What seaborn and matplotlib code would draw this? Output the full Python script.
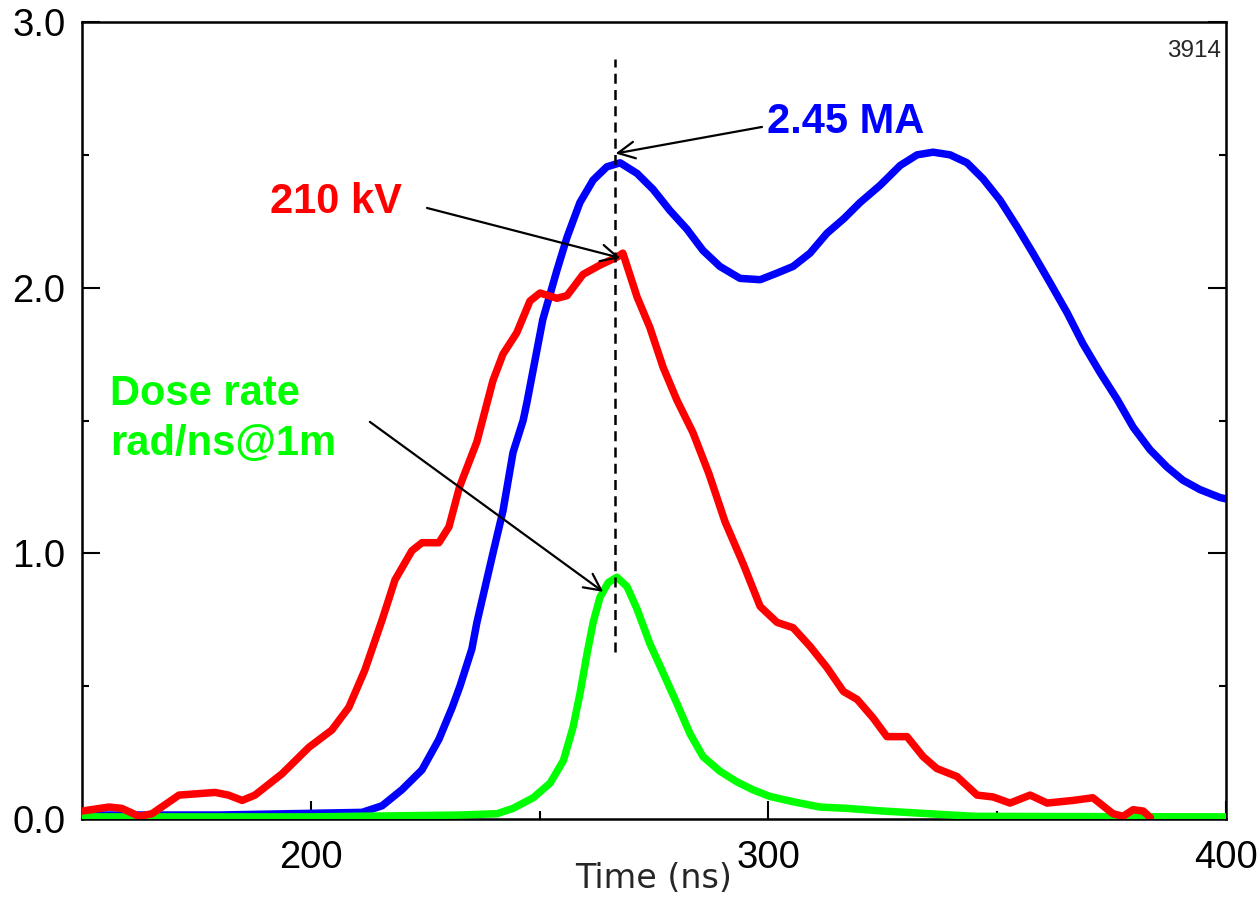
import numpy as np
import pandas as pd
import matplotlib
matplotlib.use("Agg")
import matplotlib.pyplot as plt
import seaborn as sns

# ---------------- data ----------------
t_current = [150, 180, 211.2, 215.6, 219.9, 224.3, 228, 230.9, 232.6, 235.2, 236.3,
             239.8, 242, 244.2, 246.4, 247.2, 250.7, 253.8, 256, 258.8, 261.7,
             264.7, 267.6, 271.3, 274.8, 278.5, 282.2, 285.7, 289.4, 293.8, 298.2,
             301.9, 305.4, 309.1, 312.8, 316.5, 320, 324.4, 328.8, 332.5, 336,
             339.7, 343.4, 346.9, 350.6, 354.3, 357.8, 361.5, 365.3, 368.7, 372.5,
             376.2, 379.7, 383.4, 387.1, 390.6, 394.3, 398.7, 400]
current_MA = [0.015, 0.015, 0.025, 0.05, 0.11, 0.185, 0.30, 0.42, 0.50, 0.64, 0.74,
              1.00, 1.16, 1.38, 1.50, 1.565, 1.88, 2.066, 2.19, 2.32, 2.405,
              2.455, 2.47, 2.43, 2.37, 2.29, 2.22, 2.14, 2.08, 2.035, 2.03,
              2.055, 2.08, 2.13, 2.205, 2.26, 2.32, 2.385, 2.46, 2.50, 2.51,
              2.50, 2.47, 2.41, 2.33, 2.23, 2.13, 2.02, 1.905, 1.79, 1.68,
              1.58, 1.475, 1.39, 1.325, 1.275, 1.24, 1.21, 1.205]

t_voltage = [150, 155.9, 158.7, 162.5, 165.3, 171.2, 179.1, 182, 185, 187.8, 193.7,
             199.6, 204.6, 208.3, 211.8, 215.6, 218.4, 222.1, 224.3, 228, 230.2,
             232.5, 236.3, 239.8, 242, 245, 247.9, 250.1, 253.8, 256, 259.5,
             263.2, 266.9, 268.2, 271.3, 274.1, 277, 280, 283.5, 287, 290.5,
             294.5, 298.2, 301.9, 305.4, 309.1, 312.8, 316.4, 319.4, 322.9, 325.9,
             330.3, 333.8, 336.8, 341.2, 345.6, 349.1, 352.8, 357.2, 360.9, 366.6,
             370.9, 375.3, 377.5, 379.7, 381.9, 383.5]
voltage_100kV = [0.03, 0.045, 0.04, 0.01, 0.02, 0.09, 0.10, 0.09, 0.07, 0.09, 0.17,
                 0.27, 0.335, 0.42, 0.56, 0.75, 0.90, 1.01, 1.04, 1.04, 1.10,
                 1.25, 1.42, 1.65, 1.75, 1.83, 1.95, 1.98, 1.96, 1.97, 2.05,
                 2.085, 2.115, 2.13, 1.965, 1.85, 1.70, 1.577, 1.455, 1.30, 1.12,
                 0.96, 0.80, 0.74, 0.72, 0.65, 0.57, 0.48, 0.45, 0.38, 0.31,
                 0.31, 0.235, 0.19, 0.16, 0.09, 0.083, 0.06, 0.09, 0.06, 0.07,
                 0.08, 0.02, 0.01, 0.035, 0.03, 0.005]

t_dose = [150, 200, 232.6, 240.7, 244.2, 248.6, 252.3, 255.2, 257.3, 258.8, 260.4,
          261.7, 263.2, 265, 266.9, 269.1, 271.3, 274.1, 277, 280, 282.9,
          285.7, 289.4, 293.1, 296.6, 300.3, 305.4, 311.3, 317.2, 325, 335,
          345, 400]
dose_rate = [0.008, 0.008, 0.015, 0.02, 0.04, 0.08, 0.135, 0.22, 0.345, 0.47, 0.625,
             0.74, 0.835, 0.89, 0.91, 0.875, 0.79, 0.66, 0.55, 0.435, 0.32,
             0.235, 0.18, 0.14, 0.11, 0.085, 0.065, 0.045, 0.04, 0.03, 0.02,
             0.01, 0.008]

peak_time = 266.5
x_ticks = [200, 300, 400]
x_tick_labels = ["200", "300", "400"]
y_ticks = [0.0, 1.0, 2.0, 3.0]
y_tick_labels = ["0.0", "1.0", "2.0", "3.0"]

# ---------------- styling ----------------
sns.set_style("white")
plt.rcParams["font.family"] = ["Liberation Sans", "DejaVu Sans"]

fig = plt.figure(figsize=(12.58, 8.98), dpi=100)
ax = fig.add_axes([0.06518, 0.08797, 0.90938, 0.88753])

BLUE, RED, GREEN = "#0000ff", "#ff0000", "#00ff00"
LW = 5.4

sns.lineplot(x=t_current, y=current_MA, color=BLUE, lw=LW, ax=ax,
             estimator=None, sort=False, zorder=2)
sns.lineplot(x=t_dose, y=dose_rate, color=GREEN, lw=LW, ax=ax,
             estimator=None, sort=False, zorder=3)
sns.lineplot(x=t_voltage, y=voltage_100kV, color=RED, lw=LW, ax=ax,
             estimator=None, sort=False, zorder=4)

ax.vlines(peak_time, 0.63, 2.86, colors="black", lw=1.8,
          linestyles=(0, (4, 2.5)), zorder=5)

ax.set_xlim(150, 400)
ax.set_ylim(0, 3)
ax.set_xticks(x_ticks)
ax.set_xticklabels(x_tick_labels)
ax.set_xticks([250, 350], minor=True)
ax.set_yticks(y_ticks)
ax.set_yticklabels(y_tick_labels)
ax.set_yticks([0.5, 1.5, 2.5], minor=True)

ax.tick_params(axis="both", which="both", direction="in", color="black",
               width=1.5, labelsize=27.5, labelcolor="black",
               bottom=True, left=True, right=True, top=False)
ax.tick_params(axis="x", which="major", length=13, pad=15)
ax.tick_params(axis="x", which="minor", length=6)
ax.tick_params(axis="y", which="major", length=13, pad=12)
ax.tick_params(axis="y", which="minor", length=5)

for sp in ax.spines.values():
    sp.set_color("black")
    sp.set_linewidth(1.8)

ax.set_xlabel("Time (ns)", fontsize=24, family="DejaVu Sans", labelpad=-10)
ax.set_ylabel("")

# annotations
ax.text(0.9956, 0.956, "3914", transform=ax.transAxes, ha="right",
        va="baseline", fontsize=17.5)
ax.text(299.7, 2.582, "2.45 MA", color=BLUE, fontsize=30, fontweight="bold",
        ha="left", va="baseline")
ax.text(191.1, 2.281, "210 kV", color=RED, fontsize=30, fontweight="bold",
        ha="left", va="baseline")
ax.text(156.1, 1.558, "Dose rate", color=GREEN, fontsize=30, fontweight="bold",
        ha="left", va="baseline")
ax.text(156.1, 1.370, "rad/ns@1m", color=GREEN, fontsize=30, fontweight="bold",
        ha="left", va="baseline")

arrow = dict(arrowstyle="->,head_length=0.8,head_width=0.4", color="black",
             lw=1.6, shrinkA=0, shrinkB=0, mutation_scale=15)
ax.annotate("", xy=(266.6, 2.505), xytext=(298.6, 2.605), arrowprops=arrow, zorder=6)
ax.annotate("", xy=(267.6, 2.112), xytext=(225.4, 2.30), arrowprops=arrow, zorder=6)
ax.annotate("", xy=(263.9, 0.855), xytext=(212.9, 1.495), arrowprops=arrow, zorder=6)

fig.savefig("out.png", dpi=100)
